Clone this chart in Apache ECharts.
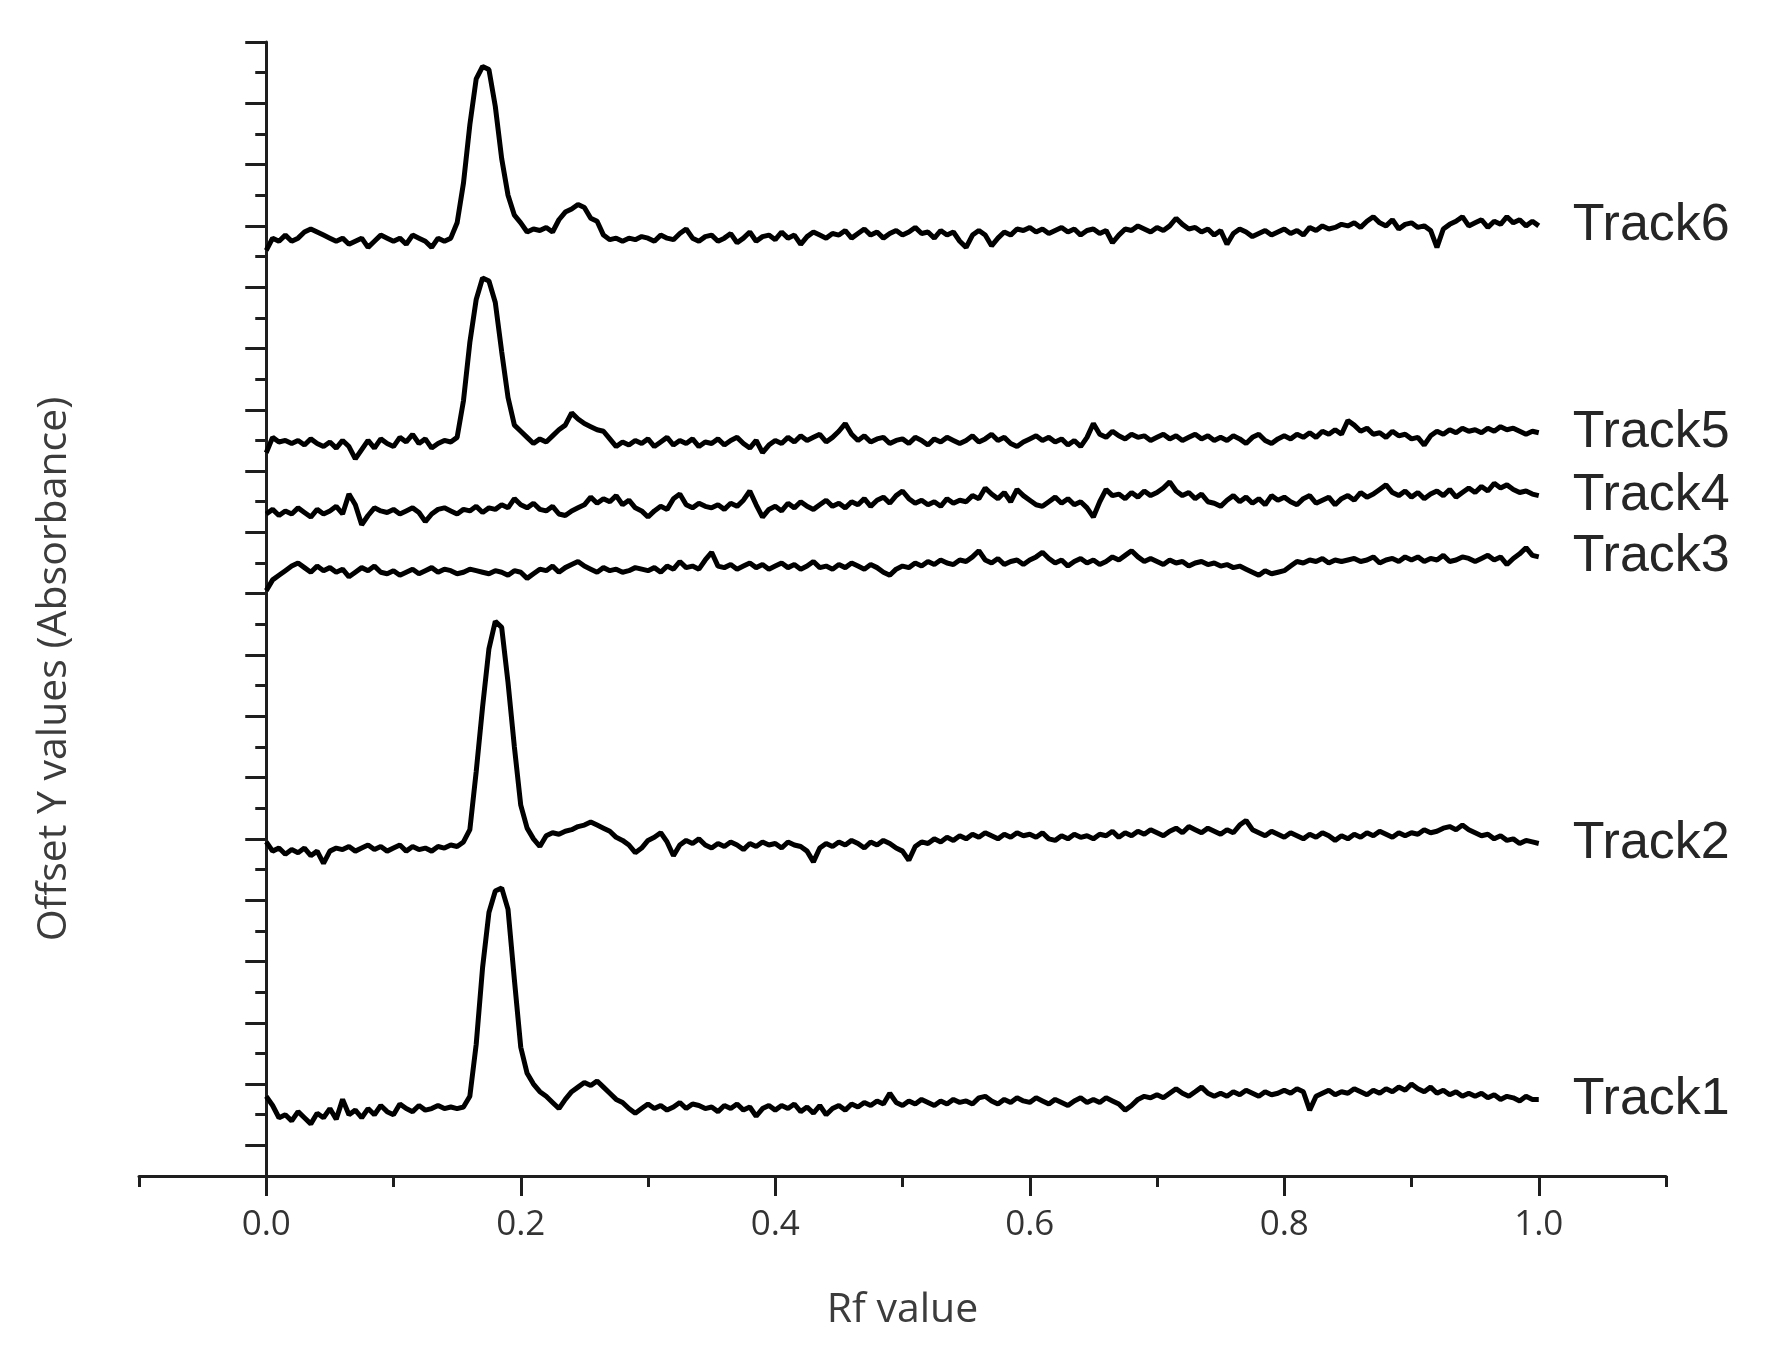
<!DOCTYPE html>
<html>
<head>
<meta charset="utf-8">
<title>Offset Y values (Absorbance)</title>
<script src="https://cdn.jsdelivr.net/npm/echarts@6/dist/echarts.min.js"></script>
<style>
html, body { margin: 0; padding: 0; background: #fff; }
#chart { width: 1768px; height: 1362px; }
</style>
</head>
<body>
<div id="chart"></div>
<script>
// sampling step along Rf for every track
const rfStep = 0.005;

const trackNames = ['Track1', 'Track2', 'Track3', 'Track4', 'Track5', 'Track6'];

const track1 = [
    2.6, 2.3, 1.9, 2.0, 1.8, 2.1, 1.9, 1.7, 2.05, 1.9,
    2.2, 1.85, 2.5, 2.0, 2.15, 1.9, 2.2, 2.0, 2.3, 2.1,
    2.0, 2.35, 2.2, 2.1, 2.3, 2.15, 2.2, 2.3, 2.2, 2.25,
    2.2, 2.25, 2.6, 4.3, 6.8, 8.6, 9.3, 9.4, 8.7, 6.4,
    4.2, 3.35, 3.0, 2.75, 2.6, 2.4, 2.2, 2.5, 2.75, 2.9,
    3.05, 2.95, 3.1, 2.9, 2.7, 2.5, 2.4, 2.2, 2.05, 2.2,
    2.35, 2.2, 2.3, 2.15, 2.25, 2.4, 2.2, 2.35, 2.3, 2.2,
    2.25, 2.1, 2.3, 2.2, 2.35, 2.15, 2.25, 1.95, 2.2, 2.3,
    2.15, 2.3, 2.2, 2.35, 2.1, 2.25, 2.05, 2.3, 2.0, 2.2,
    2.3, 2.15, 2.35, 2.25, 2.4, 2.3, 2.45, 2.35, 2.7, 2.4,
    2.3, 2.45, 2.35, 2.5, 2.4, 2.3, 2.45, 2.35, 2.5, 2.4,
    2.45, 2.35, 2.55, 2.6, 2.45, 2.35, 2.5, 2.4, 2.55, 2.45,
    2.4, 2.55, 2.45, 2.35, 2.5, 2.4, 2.3, 2.45, 2.55, 2.4,
    2.5, 2.4, 2.55, 2.45, 2.35, 2.15, 2.3, 2.5, 2.6, 2.55,
    2.65, 2.55, 2.7, 2.85, 2.7, 2.6, 2.75, 2.9, 2.7, 2.6,
    2.7, 2.6, 2.75, 2.65, 2.8, 2.7, 2.6, 2.75, 2.65, 2.7,
    2.8, 2.7, 2.85, 2.75, 2.15, 2.6, 2.7, 2.8, 2.65, 2.75,
    2.7, 2.85, 2.75, 2.65, 2.8, 2.7, 2.85, 2.75, 2.9, 2.8,
    3.0, 2.85, 2.75, 2.9, 2.7, 2.8, 2.65, 2.75, 2.6, 2.7,
    2.6, 2.7, 2.55, 2.65, 2.5, 2.6, 2.55, 2.45, 2.6, 2.5,
    2.5
];

const track2 = [
    10.9, 10.6, 10.7, 10.5, 10.65, 10.55, 10.7, 10.45, 10.6, 10.2,
    10.6, 10.7, 10.65, 10.75, 10.6, 10.7, 10.8, 10.65, 10.75, 10.6,
    10.7, 10.8, 10.6, 10.75, 10.65, 10.7, 10.6, 10.75, 10.7, 10.8,
    10.75, 10.9, 11.3, 13.2, 15.3, 17.2, 18.1, 17.9, 16.1, 14.0,
    12.1, 11.35, 11.0, 10.75, 11.1, 11.2, 11.15, 11.25, 11.3, 11.4,
    11.45, 11.55, 11.45, 11.35, 11.25, 11.05, 10.95, 10.8, 10.55, 10.7,
    10.95, 11.05, 11.2, 10.9, 10.45, 10.8, 10.95, 10.85, 11.0, 10.8,
    10.7, 10.85, 10.75, 10.9, 10.8, 10.65, 10.85, 10.75, 10.9, 10.8,
    10.85, 10.7, 10.9, 10.8, 10.75, 10.6, 10.25, 10.7, 10.85, 10.75,
    10.9, 10.8, 10.95, 10.85, 10.7, 10.9, 10.8, 10.95, 10.85, 10.7,
    10.6, 10.3, 10.75, 10.9, 10.85, 11.0, 10.9, 11.05, 10.95, 11.1,
    11.0, 11.15, 11.05, 11.2, 11.1, 11.0, 11.15, 11.05, 11.2, 11.1,
    11.15, 11.05, 11.2, 11.0, 10.95, 11.1, 11.0, 11.15, 11.05, 11.1,
    11.0, 11.15, 11.1, 11.25, 11.05, 11.2, 11.1, 11.25, 11.15, 11.3,
    11.2, 11.1, 11.25, 11.35, 11.2, 11.4, 11.3, 11.2, 11.35, 11.25,
    11.15, 11.3, 11.2, 11.45, 11.6, 11.3, 11.2, 11.1, 11.25, 11.15,
    11.05, 11.2, 11.1, 11.0, 11.15, 11.05, 11.2, 11.1, 10.95, 11.1,
    11.0, 11.15, 11.05, 11.2, 11.1, 11.25, 11.15, 11.05, 11.2, 11.1,
    11.2, 11.15, 11.3, 11.2, 11.25, 11.35, 11.4, 11.3, 11.45, 11.3,
    11.2, 11.1, 11.15, 11.0, 11.1, 10.95, 11.0, 10.85, 10.95, 10.9,
    10.85
];

const track3 = [
    19.1, 19.45, 19.6, 19.75, 19.9, 20.0, 19.85, 19.7, 19.9, 19.75,
    19.85, 19.7, 19.8, 19.55, 19.7, 19.85, 19.75, 19.9, 19.7, 19.65,
    19.75, 19.6, 19.7, 19.8, 19.65, 19.75, 19.85, 19.7, 19.8, 19.75,
    19.65, 19.7, 19.8, 19.75, 19.7, 19.65, 19.75, 19.7, 19.6, 19.75,
    19.7, 19.5, 19.65, 19.8, 19.75, 19.9, 19.7, 19.85, 19.95, 20.05,
    19.9, 19.8, 19.7, 19.85, 19.75, 19.8, 19.7, 19.75, 19.85, 19.8,
    19.75, 19.85, 19.7, 19.9, 19.8, 20.05, 19.85, 19.9, 19.8, 20.1,
    20.35, 19.9, 19.85, 19.95, 19.8, 19.9, 20.0, 19.85, 19.95, 19.8,
    19.9, 20.0, 19.85, 19.95, 19.8, 19.9, 20.05, 19.85, 19.9, 19.8,
    19.95, 19.85, 20.0, 19.9, 19.8, 19.95, 19.85, 19.7, 19.6, 19.8,
    19.9, 19.85, 20.0, 19.9, 20.05, 19.95, 20.1, 20.0, 19.95, 20.1,
    20.05, 20.2, 20.4, 20.1, 20.0, 20.15, 19.95, 20.05, 20.1, 19.95,
    20.1, 20.2, 20.35, 20.15, 20.0, 20.1, 19.9, 20.05, 20.15, 20.0,
    20.1, 19.95, 20.05, 20.2, 20.1, 20.25, 20.4, 20.2, 20.05, 20.15,
    20.05, 19.95, 20.1, 20.0, 20.05, 19.9, 20.0, 20.05, 19.95, 20.0,
    19.9, 19.95, 19.85, 19.9, 19.8, 19.7, 19.6, 19.75, 19.65, 19.7,
    19.75, 19.9, 20.05, 20.0, 20.1, 20.05, 20.15, 20.0, 20.1, 20.05,
    20.1, 20.15, 20.05, 20.1, 20.2, 20.0, 20.1, 20.15, 20.05, 20.2,
    20.1, 20.2, 20.05, 20.15, 20.1, 20.25, 20.05, 20.1, 20.2, 20.15,
    20.05, 20.15, 20.25, 20.1, 20.2, 19.95, 20.15, 20.3, 20.5, 20.25,
    20.2
];

const track4 = [
    21.6, 21.75, 21.55, 21.7, 21.6, 21.8, 21.65, 21.5, 21.75, 21.6,
    21.7, 21.85, 21.6, 22.25, 21.9, 21.25, 21.55, 21.8, 21.7, 21.65,
    21.75, 21.6, 21.7, 21.8, 21.65, 21.35, 21.6, 21.75, 21.8, 21.7,
    21.6, 21.75, 21.7, 21.85, 21.65, 21.8, 21.75, 21.9, 21.8, 22.1,
    21.9, 21.8, 21.95, 21.75, 21.7, 21.85, 21.6, 21.55, 21.7, 21.8,
    21.9, 22.15, 21.95, 22.1, 22.0, 22.2, 21.9, 22.05, 21.8, 21.7,
    21.5, 21.7, 21.85, 21.75, 22.1, 22.25, 21.9, 21.8, 21.95, 21.85,
    21.8, 21.9, 21.75, 21.95, 21.85, 22.05, 22.35, 21.9, 21.5, 21.75,
    21.85, 21.7, 21.95, 21.8, 22.0, 21.85, 21.75, 21.9, 22.05, 21.85,
    21.95, 21.8, 22.0, 21.9, 22.1, 21.85, 22.05, 22.15, 21.95, 22.2,
    22.35, 22.1, 21.95, 22.05, 21.9, 22.0, 21.85, 22.1, 21.95, 22.05,
    22.0, 22.2, 22.1, 22.45, 22.25, 22.1, 22.3, 22.0, 22.4, 22.2,
    22.05, 21.9, 21.85, 22.0, 22.15, 21.95, 22.1, 21.9, 22.0, 21.8,
    21.5, 22.0, 22.4, 22.2, 22.25, 22.1, 22.3, 22.15, 22.35, 22.2,
    22.3, 22.45, 22.65, 22.35, 22.2, 22.3, 22.1, 22.25, 22.0, 21.95,
    21.85, 22.05, 22.2, 22.0, 22.15, 21.95, 22.1, 21.9, 22.2, 22.05,
    22.15, 22.0, 21.9, 22.1, 22.2, 21.95, 22.05, 22.15, 21.9, 22.1,
    22.2, 22.05, 22.3, 22.15, 22.25, 22.4, 22.55, 22.3, 22.2, 22.35,
    22.15, 22.3, 22.1, 22.25, 22.35, 22.2, 22.4, 22.15, 22.3, 22.45,
    22.3, 22.5, 22.35, 22.6, 22.45, 22.55, 22.4, 22.3, 22.35, 22.25,
    22.2
];

const track5 = [
    23.6, 24.1, 23.95, 24.0, 23.9, 24.0, 23.85, 24.05, 23.9, 23.8,
    23.95, 23.75, 24.0, 23.8, 23.4, 23.7, 24.0, 23.75, 24.05, 23.9,
    23.8, 24.1, 23.95, 24.2, 23.9, 24.05, 23.75, 23.9, 24.0, 23.95,
    24.1, 25.3, 27.2, 28.6, 29.3, 29.2, 28.5, 26.9, 25.4, 24.5,
    24.3, 24.1, 23.9, 24.05, 23.95, 24.15, 24.35, 24.5, 24.9, 24.7,
    24.55, 24.45, 24.35, 24.3, 24.05, 23.8, 23.95, 23.85, 24.0, 23.9,
    24.05, 23.8, 23.95, 24.1, 23.85, 24.0, 23.9, 24.05, 23.8, 23.95,
    23.9, 24.05, 23.85, 24.0, 24.1, 23.9, 23.75, 24.0, 23.6, 23.85,
    24.0, 23.9, 24.1, 23.95, 24.15, 24.0, 24.1, 24.2, 23.95, 24.1,
    24.3, 24.55, 24.2, 24.0, 24.15, 23.95, 24.05, 24.1, 23.9, 24.0,
    24.05, 23.9, 24.1, 24.0, 23.85, 24.05, 23.95, 24.1, 24.0, 23.9,
    24.0, 24.15, 23.95, 24.05, 24.2, 24.0, 24.1, 23.9, 23.8, 23.95,
    24.05, 24.15, 24.0, 24.1, 23.95, 24.05, 23.85, 24.0, 23.8, 24.1,
    24.55, 24.2, 24.1, 24.3, 24.15, 24.05, 24.2, 24.1, 24.15, 24.0,
    24.1, 24.2, 24.05, 24.15, 24.0, 24.1, 24.2, 24.05, 24.15, 24.0,
    24.1, 24.0, 24.15, 24.05, 23.9, 24.1, 24.2, 24.0, 23.9, 24.05,
    24.15, 24.05, 24.2, 24.1, 24.25, 24.1, 24.3, 24.2, 24.35, 24.2,
    24.65, 24.5, 24.3, 24.4, 24.2, 24.25, 24.1, 24.3, 24.15, 24.2,
    24.05, 24.1, 23.85, 24.15, 24.3, 24.2, 24.35, 24.25, 24.4, 24.3,
    24.35, 24.25, 24.4, 24.3, 24.45, 24.35, 24.4, 24.3, 24.2, 24.3,
    24.25
];

const track6 = [
    30.2, 30.6, 30.5, 30.7, 30.5, 30.6, 30.8, 30.9, 30.8, 30.7,
    30.6, 30.5, 30.6, 30.4, 30.5, 30.6, 30.3, 30.5, 30.7, 30.6,
    30.5, 30.6, 30.4, 30.7, 30.6, 30.5, 30.3, 30.6, 30.5, 30.6,
    31.1, 32.4, 34.3, 35.8, 36.2, 36.1, 34.9, 33.2, 32.0, 31.35,
    31.1, 30.8, 30.9, 30.85, 30.95, 30.8, 31.2, 31.45, 31.55, 31.7,
    31.6, 31.25, 31.15, 30.7, 30.55, 30.6, 30.5, 30.6, 30.55, 30.65,
    30.6, 30.5, 30.7, 30.6, 30.55, 30.75, 30.9, 30.6, 30.5, 30.65,
    30.7, 30.5, 30.6, 30.75, 30.45, 30.6, 30.8, 30.5, 30.65, 30.7,
    30.55, 30.8, 30.6, 30.7, 30.4, 30.65, 30.8, 30.7, 30.6, 30.75,
    30.7, 30.85, 30.6, 30.75, 30.9, 30.7, 30.8, 30.6, 30.75, 30.85,
    30.7, 30.8, 30.95, 30.75, 30.8, 30.6, 30.85, 30.7, 30.8, 30.5,
    30.3, 30.7, 30.85, 30.7, 30.35, 30.6, 30.8, 30.7, 30.9, 30.85,
    30.95, 30.8, 30.9, 30.75, 30.85, 30.95, 30.8, 30.9, 30.7, 30.85,
    30.9, 30.75, 30.85, 30.45, 30.7, 30.9, 30.85, 31.0, 30.9, 30.8,
    30.95, 30.85, 31.0, 31.25, 31.05, 30.9, 30.95, 30.8, 30.9, 30.7,
    30.85, 30.4, 30.75, 30.9, 30.8, 30.65, 30.75, 30.85, 30.7, 30.8,
    30.9, 30.75, 30.85, 30.7, 30.95, 30.85, 31.0, 30.9, 30.95, 31.05,
    31.0, 31.1, 30.95, 31.15, 31.3, 31.1, 31.0, 31.2, 30.9, 31.05,
    31.1, 30.95, 31.0, 30.85, 30.3, 30.9, 31.05, 31.15, 31.3, 31.0,
    31.1, 31.2, 30.95, 31.15, 31.05, 31.3, 31.1, 31.2, 31.0, 31.15,
    31.0
];

// axis ticks: long ticks and short ticks sit on alternate positions
const xLabelTicks = [0, 0.2, 0.4, 0.6, 0.8, 1.0];
const xShortTicks = [-0.1, 0.1, 0.3, 0.5, 0.7, 0.9, 1.1];
const yLongTicks = [1, 3, 5, 7, 9, 11, 13, 15, 17, 19, 21, 23, 25, 27, 29, 31, 33, 35, 37];
const yShortTicks = [0, 2, 4, 6, 8, 10, 12, 14, 16, 18, 20, 22, 24, 26, 28, 30, 32, 34, 36];

const tracks = [track1, track2, track3, track4, track5, track6];

const axisColor = '#1e1e1e';
const textFont = '"Open Sans", "Noto Sans", sans-serif';

function toPoints(values) {
    return values.map((v, i) => [+(i * rfStep).toFixed(3), v]);
}

const chart = echarts.init(document.getElementById('chart'));

const option = {
    animation: false,
    backgroundColor: '#fff',
    grid: {
        left: 139,
        right: 102,
        top: 42,
        bottom: 186
    },
    xAxis: [{
        type: 'value',
        position: 'bottom',
        min: -0.1,
        max: 1.1,
        name: 'Rf value',
        nameLocation: 'middle',
        nameGap: 114,
        nameTextStyle: {
            fontFamily: textFont,
            fontSize: 41,
            color: '#3c3c3c'
        },
        axisLine: { show: true, lineStyle: { color: axisColor, width: 3 } },
        axisTick: {
            show: true,
            customValues: xLabelTicks,
            length: 20,
            lineStyle: { color: axisColor, width: 3 }
        },
        axisLabel: {
            customValues: xLabelTicks,
            formatter: v => v.toFixed(1),
            margin: 32,
            fontFamily: textFont,
            fontSize: 35,
            color: '#333'
        },
        splitLine: { show: false }
    }, {
        type: 'value',
        position: 'bottom',
        min: -0.1,
        max: 1.1,
        axisLine: { show: false },
        axisTick: {
            show: true,
            customValues: xShortTicks,
            length: 11,
            lineStyle: { color: axisColor, width: 3 }
        },
        axisLabel: { show: false },
        splitLine: { show: false }
    }],
    yAxis: [{
        type: 'value',
        position: 'left',
        min: 0,
        max: 37,
        axisLine: { show: true, lineStyle: { color: axisColor, width: 3 } },
        axisTick: {
            show: true,
            customValues: yLongTicks,
            length: 21,
            lineStyle: { color: axisColor, width: 3 }
        },
        axisLabel: { show: false },
        splitLine: { show: false }
    }, {
        type: 'value',
        position: 'left',
        min: 0,
        max: 37,
        axisLine: { show: false },
        axisTick: {
            show: true,
            customValues: yShortTicks,
            length: 11,
            lineStyle: { color: axisColor, width: 3 }
        },
        axisLabel: { show: false },
        splitLine: { show: false }
    }],
    graphic: [{
        type: 'text',
        x: 54,
        y: 669,
        rotation: Math.PI / 2,
        style: {
            text: 'Offset Y values (Absorbance)',
            fontFamily: textFont,
            fontSize: 41,
            fill: '#3c3c3c',
            align: 'center',
            verticalAlign: 'middle'
        }
    }],
    series: tracks.map((values, idx) => ({
        name: trackNames[idx],
        type: 'line',
        xAxisIndex: 0,
        yAxisIndex: 0,
        data: toPoints(values),
        symbol: 'none',
        smooth: false,
        lineStyle: { color: '#000', width: 5 },
        endLabel: {
            show: true,
            formatter: '{a}',
            distance: 34,
            fontFamily: '"Liberation Sans", Arial, sans-serif',
            fontSize: 52,
            color: '#262626'
        }
    }))
};

chart.setOption(option);
</script>
</body>
</html>
